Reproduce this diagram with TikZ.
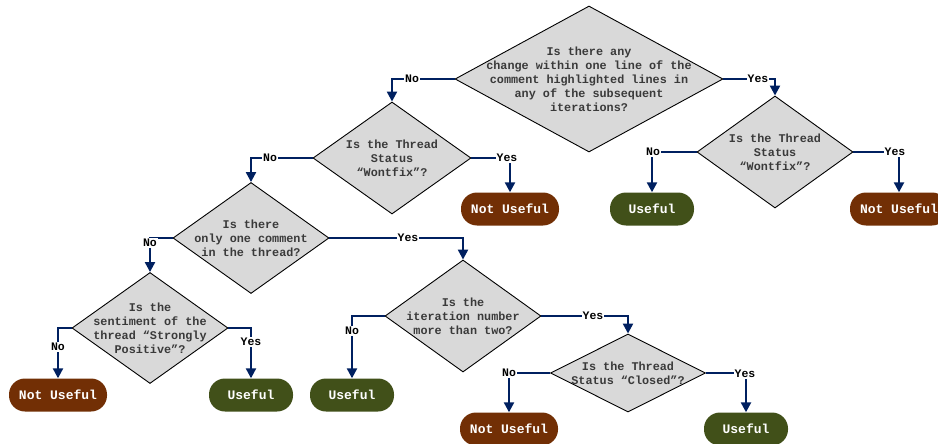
\documentclass[tikz,border=0pt]{standalone}
\usepackage{fontspec}
\newfontfamily\courf{Liberation Mono}
\usetikzlibrary{shapes.geometric,arrows.meta}
\definecolor{navy}{HTML}{002060}
\definecolor{dgrey}{HTML}{D9D9D9}
\definecolor{nuse}{HTML}{722F05}
\definecolor{usec}{HTML}{415019}
\definecolor{qtxt}{HTML}{3A3A3A}
\tikzset{
 dia/.style={shape=diamond, draw=black, line width=0.9pt, fill=dgrey, inner sep=0pt},
 qtext/.style={font=\courf\bfseries\fontsize{11.8}{14}\selectfont, text=qtxt, align=center, inner sep=0pt},
 term/.style={rounded corners=16pt, minimum height=33pt, inner sep=0pt, font=\courf\bfseries\fontsize{13}{15}\selectfont, text=white},
 notuse/.style={term, fill=nuse, minimum width=98pt},
 useful/.style={term, fill=usec, minimum width=84pt},
 conn/.style={draw=navy, line width=2.3pt, -{Triangle[width=10pt,length=10pt]}},
 lab/.style={fill=white, inner sep=1pt, font=\courf\bfseries\fontsize{11.5}{13}\selectfont, text=black},
}
\begin{document}
\begin{tikzpicture}[x=1pt,y=-1pt]
\useasboundingbox (0,0) rectangle (938,444);
% decisions
\node[dia, minimum width=268pt, minimum height=146pt] (d1) at (589,79) {};
\node[qtext] (t1) at (d1.center) {Is there any\\change within one line of the\\comment highlighted lines in\\any of the subsequent\\iterations?};
\node[dia, minimum width=158pt, minimum height=112pt] (d2) at (392,158) {};
\node[qtext] (t2) at (d2.center) {Is the Thread\\Status\\“Wontfix”?};
\node[dia, minimum width=156pt, minimum height=112pt] (d3) at (775,152) {};
\node[qtext] (t3) at (d3.center) {Is the Thread\\Status\\“Wontfix”?};
\node[dia, minimum width=156pt, minimum height=111pt] (d4) at (251,238) {};
\node[qtext] (t4) at (d4.center) {Is there\\only one comment\\in the thread?};
\node[dia, minimum width=156pt, minimum height=111pt] (d5) at (150,328) {};
\node[qtext] (t5) at (d5.center) {Is the\\sentiment of the\\thread “Strongly\\Positive”?};
\node[dia, minimum width=156pt, minimum height=112pt] (d6) at (463,316) {};
\node[qtext] (t6) at (d6.center) {Is the\\iteration number\\more than two?};
\node[dia, minimum width=155pt, minimum height=78pt] (d7) at (628,373) {};
\node[qtext] (t7) at (d7.center) {Is the Thread\\Status “Closed”?};
% terminals
\node[notuse] (n1) at (510,209) {Not Useful};
\node[useful] (u1) at (652,209) {Useful};
\node[notuse] (n2) at (899,209) {Not Useful};
\node[notuse] (n3) at (58,395) {Not Useful};
\node[useful] (u2) at (251,395) {Useful};
\node[useful] (u3) at (352,395) {Useful};
\node[notuse] (n4) at (509,429) {Not Useful};
\node[useful] (u4) at (746,429) {Useful};
% connectors
\draw[conn] (d1.west) -| (d2.north);
\draw[conn] (d1.east) -| (d3.north);
\draw[conn] (d2.west) -| (d4.north);
\draw[conn] (d2.east) -| (n1.north);
\draw[conn] (d3.west) -| (u1.north);
\draw[conn] (d3.east) -| (n2.north);
\draw[conn] (d4.west) -| (d5.north);
\draw[conn] (d4.east) -| (d6.north);
\draw[conn] (d5.west) -| (n3.north);
\draw[conn] (d5.east) -| (u2.north);
\draw[conn] (d6.west) -| (u3.north);
\draw[conn] (d6.east) -| (d7.north);
\draw[conn] (d7.west) -| (n4.north);
\draw[conn] (d7.east) -| (u4.north);
% labels
\node[lab] (l1) at (412,79) {No};
\node[lab] (l2) at (758,79) {Yes};
\node[lab] (l3) at (270,158) {No};
\node[lab] (l4) at (507,158) {Yes};
\node[lab] (l5) at (653,152) {No};
\node[lab] (l6) at (895,152) {Yes};
\node[lab] (l7) at (150,243) {No};
\node[lab] (l8) at (408,238) {Yes};
\node[lab] (l9) at (58,347) {No};
\node[lab] (l10) at (251,342) {Yes};
\node[lab] (l11) at (352,331) {No};
\node[lab] (l12) at (593,316) {Yes};
\node[lab] (l13) at (509,373) {No};
\node[lab] (l14) at (745,374) {Yes};
\end{tikzpicture}
\end{document}
